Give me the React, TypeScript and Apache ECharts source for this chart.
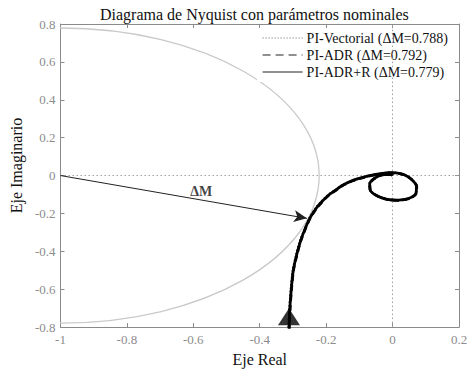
import React, { useEffect, useRef } from 'react';
import * as echarts from 'echarts';

const titleText = 'Diagrama de Nyquist con parámetros nominales';
const xName = 'Eje Real';
const yName = 'Eje Imaginario';
const seriesNames = ['PI-Vectorial (ΔM=0.788)', 'PI-ADR (ΔM=0.792)', 'PI-ADR+R (ΔM=0.779)'];

const xMin = -1, xMax = 0.2, xStep = 0.2;
const yMin = -0.8, yMax = 0.8, yStep = 0.2;

const piVectorial: number[][] = [
  [-0.313, -0.82], [-0.311, -0.72], [-0.306, -0.6], [-0.3, -0.5], [-0.29, -0.42],
  [-0.279, -0.35], [-0.264, -0.28], [-0.25, -0.225], [-0.232, -0.175], [-0.215, -0.14],
  [-0.195, -0.105], [-0.175, -0.08], [-0.15, -0.05], [-0.121, -0.027], [-0.09, -0.01],
  [-0.062, 0.002], [-0.035, 0.01], [-0.012, 0.015], [0.01, 0.014], [0.035, 0.004],
  [0.058, -0.022], [0.072, -0.058], [0.07, -0.095], [0.05, -0.12], [0.017, -0.13],
  [-0.02, -0.124], [-0.05, -0.104], [-0.068, -0.075], [-0.069, -0.045], [-0.056, -0.016],
  [-0.032, 0.004], [-0.005, 0.006], [0, 0],
];
const piADR: number[][] = [
  [-0.311, -0.82], [-0.309, -0.72], [-0.304, -0.6], [-0.298, -0.5], [-0.288, -0.42],
  [-0.277, -0.35], [-0.262, -0.28], [-0.248, -0.226], [-0.23, -0.176], [-0.213, -0.141],
  [-0.193, -0.106], [-0.173, -0.081], [-0.148, -0.051], [-0.12, -0.028], [-0.089, -0.011],
  [-0.061, 0.001], [-0.034, 0.009], [-0.011, 0.014], [0.011, 0.013], [0.036, 0.003],
  [0.059, -0.023], [0.073, -0.059], [0.071, -0.096], [0.051, -0.121], [0.018, -0.131],
  [-0.019, -0.125], [-0.049, -0.105], [-0.067, -0.076], [-0.068, -0.046], [-0.055, -0.017],
  [-0.031, 0.003], [-0.004, 0.005], [0, 0],
];
const piADRR: number[][] = [
  [-0.312, -0.82], [-0.31, -0.72], [-0.305, -0.6], [-0.299, -0.5], [-0.289, -0.42],
  [-0.278, -0.35], [-0.263, -0.28], [-0.249, -0.225], [-0.231, -0.175], [-0.214, -0.14],
  [-0.194, -0.105], [-0.174, -0.08], [-0.149, -0.05], [-0.121, -0.027], [-0.09, -0.01],
  [-0.062, 0.002], [-0.035, 0.01], [-0.012, 0.015], [0.01, 0.014], [0.035, 0.004],
  [0.058, -0.022], [0.072, -0.058], [0.07, -0.095], [0.05, -0.12], [0.017, -0.13],
  [-0.02, -0.124], [-0.05, -0.104], [-0.068, -0.075], [-0.069, -0.045], [-0.056, -0.016],
  [-0.032, 0.004], [-0.005, 0.006], [0, 0],
];

const marginCircle = [-1, 0, 0.779]; // center x, center y, radius
const marginArrowStart = [-1, 0];
const marginArrowEnd = [-0.258, -0.226];
const marginLabel = { text: 'ΔM', pos: [-0.576, -0.085] };
const directionArrow = [-0.312, -0.745];

const FONT = '"Liberation Serif", "Times New Roman", serif';
const AXIS_GRAY = '#8a8a8a';

export default function App() {
  const ref = useRef<HTMLDivElement>(null);
  useEffect(() => {
    if (!ref.current) return;
    const chart = echarts.init(ref.current, undefined, { renderer: 'svg' });
    const axisCommon = {
      type: 'value' as const,
      axisLine: { show: true, onZero: false, lineStyle: { color: AXIS_GRAY, width: 1 } },
      axisTick: { show: true, inside: true, length: 4, lineStyle: { color: AXIS_GRAY } },
      splitLine: { show: false },
    };
    const curveCommon = {
      type: 'line' as const,
      symbol: 'none',
      smooth: 0.3,
      clip: true,
      z: 5,
      itemStyle: { color: '#000' },
    };
    chart.setOption({
      animation: false,
      backgroundColor: '#fff',
      title: {
        text: titleText,
        left: 95,
        top: 1,
        textStyle: { fontFamily: FONT, fontSize: 16, fontWeight: 'normal', color: '#111' },
      },
      grid: { left: 51, right: 13, top: 24, bottom: 39 },
      legend: {
        orient: 'vertical',
        left: 257,
        top: 28,
        padding: [3, 5, 3, 5],
        backgroundColor: '#fff',
        itemWidth: 40,
        itemHeight: 14,
        itemGap: 3,
        data: [
          { name: seriesNames[0], lineStyle: { width: 1, type: [1, 2], color: '#666' } },
          { name: seriesNames[1], lineStyle: { width: 1.2, type: [8, 5], color: '#222' } },
          { name: seriesNames[2], lineStyle: { width: 1, type: 'solid', color: '#222' } },
        ],
        itemStyle: { opacity: 0 },
        textStyle: { fontFamily: FONT, fontSize: 14, color: '#111', padding: [0, 0, 0, -1] },
        selectedMode: false,
      },
      xAxis: [
        {
          ...axisCommon,
          position: 'bottom',
          min: xMin, max: xMax, interval: xStep,
          name: xName,
          nameLocation: 'middle',
          nameGap: 19,
          nameTextStyle: { fontFamily: FONT, fontSize: 16, color: '#111' },
          axisLabel: { fontFamily: FONT, fontSize: 13, color: '#8c8c8c', margin: 6 },
        },
        {
          ...axisCommon,
          position: 'top',
          min: xMin, max: xMax, interval: xStep,
          axisLabel: { show: false },
        },
      ],
      yAxis: [
        {
          ...axisCommon,
          position: 'left',
          min: yMin, max: yMax, interval: yStep,
          name: yName,
          nameLocation: 'middle',
          nameGap: 29,
          nameTextStyle: { fontFamily: FONT, fontSize: 16, color: '#111', padding: [0, 0, 0, 20] },
          axisLabel: { fontFamily: FONT, fontSize: 13, color: '#8c8c8c', margin: 5 },
        },
        {
          ...axisCommon,
          position: 'right',
          min: yMin, max: yMax, interval: yStep,
          axisLabel: { show: false },
        },
      ],
      series: [
        {
          type: 'custom',
          name: 'circle',
          clip: true,
          silent: true,
          z: 1,
          data: [marginCircle],
          renderItem: (params: any, api: any) => {
            const c = api.coord([api.value(0), api.value(1)]);
            const r = api.value(2);
            const rx = api.size([r, 0])[0];
            const ry = api.size([0, r])[1];
            return {
              type: 'ellipse',
              shape: { cx: c[0], cy: c[1], rx, ry },
              style: { fill: 'none', stroke: '#c9c9c9', lineWidth: 1.3 },
            };
          },
        },
        {
          type: 'line',
          name: 'refs',
          data: [],
          symbol: 'none',
          z: 2,
          markLine: {
            silent: true,
            symbol: ['none', 'none'],
            label: { show: false },
            lineStyle: { color: '#a0a0a0', type: [1.5, 2.5], width: 1 },
            data: [{ xAxis: 0 }, { yAxis: 0 }],
          },
        },
        {
          type: 'line',
          name: 'arrow',
          data: [],
          symbol: 'none',
          z: 3,
          markLine: {
            silent: true,
            symbol: ['none', 'arrow'],
            symbolSize: [9, 13],
            label: { show: false },
            lineStyle: { color: '#222', type: 'solid', width: 1 },
            data: [[{ coord: marginArrowStart }, { coord: marginArrowEnd }]],
          },
        },
        {
          type: 'scatter',
          name: 'dmlabel',
          data: [marginLabel.pos],
          symbolSize: 1,
          itemStyle: { color: 'transparent' },
          silent: true,
          label: {
            show: true,
            position: 'inside',
            formatter: marginLabel.text,
            fontFamily: FONT,
            fontSize: 14,
            fontWeight: 'bold',
            color: '#111',
          },
          z: 4,
        },
        {
          ...curveCommon,
          name: seriesNames[2],
          data: piADRR,
          lineStyle: { color: '#000', width: 2.8, type: 'solid' },
        },
        {
          ...curveCommon,
          name: seriesNames[1],
          data: piADR,
          lineStyle: { color: '#000', width: 2.6, type: [6, 4] },
        },
        {
          ...curveCommon,
          name: seriesNames[0],
          data: piVectorial,
          lineStyle: { color: '#000', width: 2.4, type: [1.5, 2] },
        },
        {
          type: 'scatter',
          name: 'dir',
          data: [directionArrow],
          symbol: 'triangle',
          symbolSize: [22, 17],
          itemStyle: { color: '#000' },
          silent: true,
          z: 6,
        },
      ],
    });
    return () => chart.dispose();
  }, []);
  return (
    <div
      ref={ref}
      style={{ position: 'fixed', left: 0, top: 0, width: 472, height: 372, background: '#fff' }}
    />
  );
}
